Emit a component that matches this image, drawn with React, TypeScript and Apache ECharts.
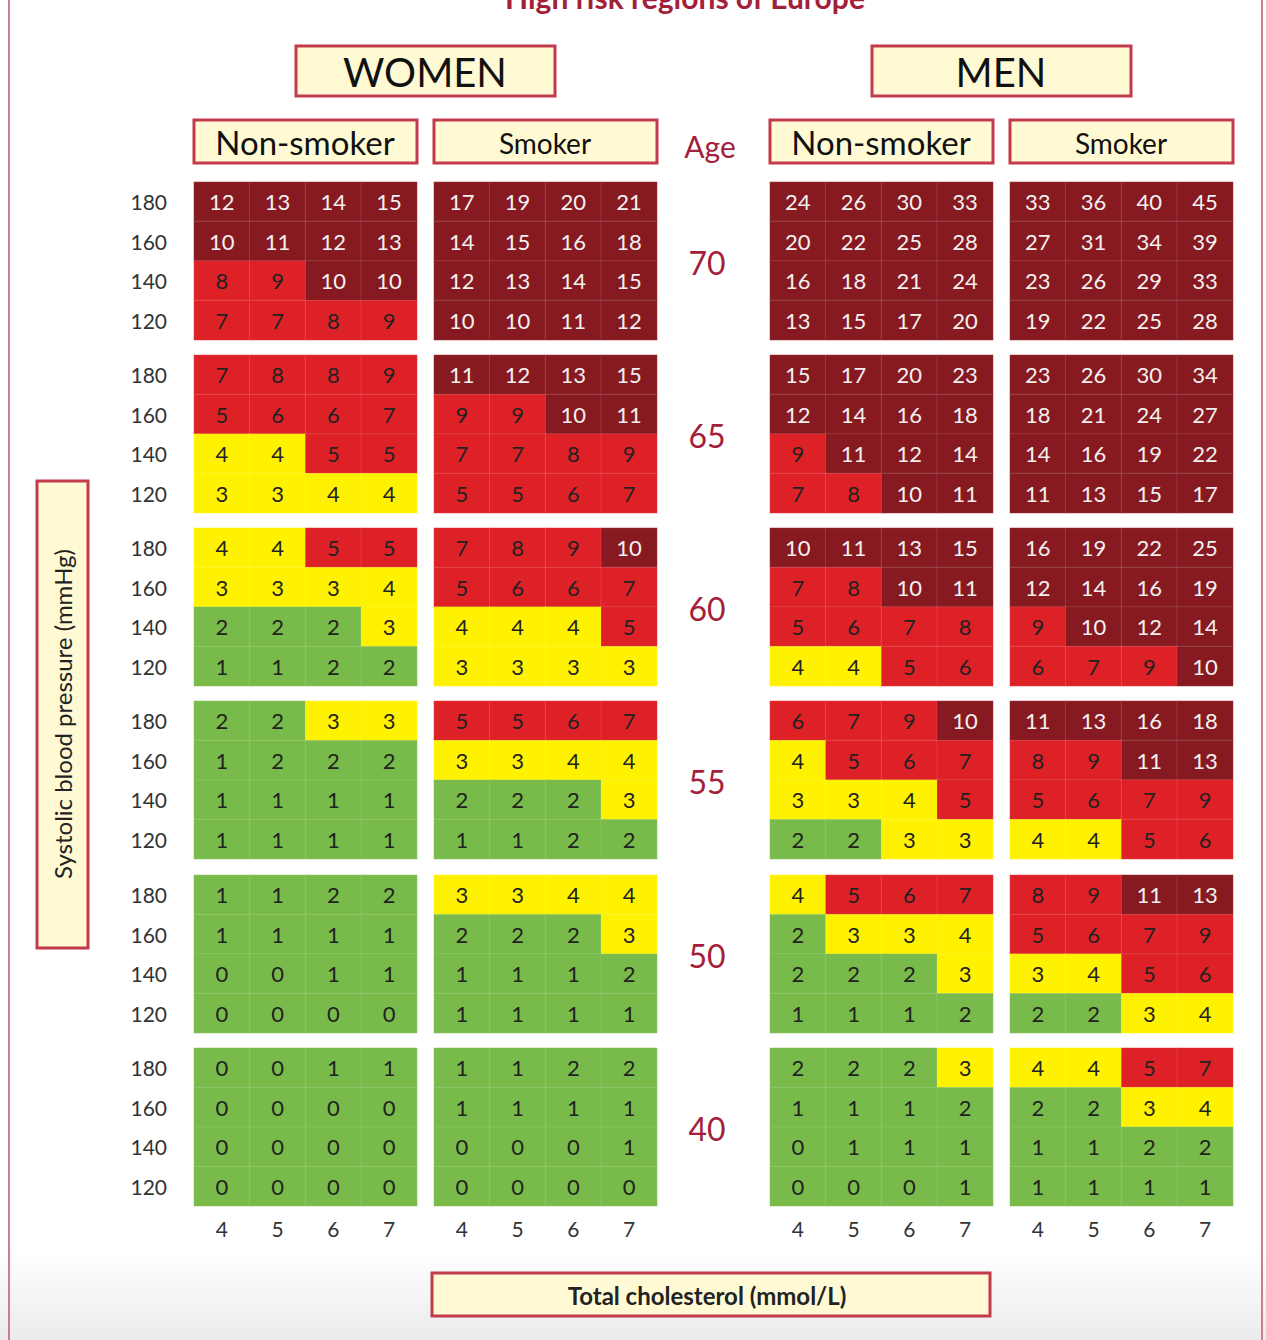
import React, { useEffect, useRef } from "react";
import * as echarts from "echarts";

const cholesterol = ["4", "5", "6", "7"];
const pressure = ["120", "140", "160", "180"];
const ages = ["70", "65", "60", "55", "50", "40"];
const panels = ["Non-smoker", "Smoker", "Non-smoker", "Smoker"];

// rows top to bottom: 180, 160, 140, 120; columns 4..7
const womenNonSmoker = [
  [[12, 13, 14, 15], [10, 11, 12, 13], [8, 9, 10, 10], [7, 7, 8, 9]],
  [[7, 8, 8, 9], [5, 6, 6, 7], [4, 4, 5, 5], [3, 3, 4, 4]],
  [[4, 4, 5, 5], [3, 3, 3, 4], [2, 2, 2, 3], [1, 1, 2, 2]],
  [[2, 2, 3, 3], [1, 2, 2, 2], [1, 1, 1, 1], [1, 1, 1, 1]],
  [[1, 1, 2, 2], [1, 1, 1, 1], [0, 0, 1, 1], [0, 0, 0, 0]],
  [[0, 0, 1, 1], [0, 0, 0, 0], [0, 0, 0, 0], [0, 0, 0, 0]],
];
const womenSmoker = [
  [[17, 19, 20, 21], [14, 15, 16, 18], [12, 13, 14, 15], [10, 10, 11, 12]],
  [[11, 12, 13, 15], [9, 9, 10, 11], [7, 7, 8, 9], [5, 5, 6, 7]],
  [[7, 8, 9, 10], [5, 6, 6, 7], [4, 4, 4, 5], [3, 3, 3, 3]],
  [[5, 5, 6, 7], [3, 3, 4, 4], [2, 2, 2, 3], [1, 1, 2, 2]],
  [[3, 3, 4, 4], [2, 2, 2, 3], [1, 1, 1, 2], [1, 1, 1, 1]],
  [[1, 1, 2, 2], [1, 1, 1, 1], [0, 0, 0, 1], [0, 0, 0, 0]],
];
const menNonSmoker = [
  [[24, 26, 30, 33], [20, 22, 25, 28], [16, 18, 21, 24], [13, 15, 17, 20]],
  [[15, 17, 20, 23], [12, 14, 16, 18], [9, 11, 12, 14], [7, 8, 10, 11]],
  [[10, 11, 13, 15], [7, 8, 10, 11], [5, 6, 7, 8], [4, 4, 5, 6]],
  [[6, 7, 9, 10], [4, 5, 6, 7], [3, 3, 4, 5], [2, 2, 3, 3]],
  [[4, 5, 6, 7], [2, 3, 3, 4], [2, 2, 2, 3], [1, 1, 1, 2]],
  [[2, 2, 2, 3], [1, 1, 1, 2], [0, 1, 1, 1], [0, 0, 0, 1]],
];
const menSmoker = [
  [[33, 36, 40, 45], [27, 31, 34, 39], [23, 26, 29, 33], [19, 22, 25, 28]],
  [[23, 26, 30, 34], [18, 21, 24, 27], [14, 16, 19, 22], [11, 13, 15, 17]],
  [[16, 19, 22, 25], [12, 14, 16, 19], [9, 10, 12, 14], [6, 7, 9, 10]],
  [[11, 13, 16, 18], [8, 9, 11, 13], [5, 6, 7, 9], [4, 4, 5, 6]],
  [[8, 9, 11, 13], [5, 6, 7, 9], [3, 4, 5, 6], [2, 2, 3, 4]],
  [[4, 4, 5, 7], [2, 2, 3, 4], [1, 1, 2, 2], [1, 1, 1, 1]],
];

const FONT = "Lato";
const DARK = "#861a20";
const RED = "#de2127";
const YELLOW = "#fff200";
const GREEN = "#78bb4a";

export default function App() {
  const ref = useRef<HTMLDivElement>(null);
  useEffect(() => {
    if (!ref.current) return;
    const chart = echarts.init(ref.current, undefined, { renderer: "svg" });
    const tables = [womenNonSmoker, womenSmoker, menNonSmoker, menSmoker];
    const colLeft = [194, 434, 770, 1010];
    const blockTop = [182, 355, 528, 701, 875, 1048];
    const W = 223;
    const H = 158;

    const grid: any[] = [];
    const xAxis: any[] = [];
    const yAxis: any[] = [];
    const series: any[] = [];

    tables.forEach((table, c) => {
      ages.forEach((age, a) => {
        const idx = grid.length;
        grid.push({ left: colLeft[c], top: blockTop[a], width: W, height: H });
        xAxis.push({
          type: "category",
          gridIndex: idx,
          data: cholesterol,
          axisLine: { show: false },
          axisTick: { show: false },
          splitLine: { show: false },
          axisLabel: {
            show: a === ages.length - 1,
            margin: 12,
            fontSize: 21,
            color: "#333",
            fontFamily: FONT,
          },
        });
        yAxis.push({
          type: "category",
          gridIndex: idx,
          data: pressure,
          axisLine: { show: false },
          axisTick: { show: false },
          splitLine: { show: false },
          axisLabel: {
            show: c === 0,
            margin: 27,
            fontSize: 21,
            color: "#333",
            fontFamily: FONT,
          },
        });
        const rows = table[a];
        const data: any[] = [];
        rows.forEach((row, r) => {
          const yi = pressure.length - 1 - r;
          row.forEach((v, xi) => {
            data.push({
              value: [xi, yi, v],
              label: { color: v >= 10 ? "#f4f0f0" : "#222222" },
            });
          });
        });
        series.push({
          type: "heatmap",
          xAxisIndex: idx,
          yAxisIndex: idx,
          data,
          itemStyle: { borderColor: "rgba(255,255,255,0.12)", borderWidth: 1 },
          label: {
            show: true,
            fontSize: 22,
            fontFamily: FONT,
            formatter: (p: any) => String(p.value[2]),
          },
          emphasis: { disabled: true },
        });
      });
    });

    const box = (x: number, y: number, w: number, h: number) => ({
      type: "rect",
      shape: { x, y, width: w, height: h },
      style: { fill: "#fffad4", stroke: "#c23a4c", lineWidth: 3 },
      z: 5,
    });
    const txt = (x: number, y: number, text: string, size: number, color = "#111", weight = "normal", extra: any = {}) => ({
      type: "text",
      x,
      y,
      z: 6,
      ...extra,
      style: {
        text,
        fill: color,
        font: `${weight} ${size}px ${FONT}`,
        textAlign: "center",
        textVerticalAlign: "middle",
      },
    });

    const graphic: any[] = [
      {
        type: "rect",
        shape: { x: 0, y: 1250, width: 1266, height: 90 },
        style: {
          fill: new echarts.graphic.LinearGradient(0, 0, 0, 1, [
            { offset: 0, color: "#ffffff" },
            { offset: 1, color: "#ebebeb" },
          ]),
        },
        z: 0,
      },
      { type: "line", shape: { x1: 9, y1: 0, x2: 9, y2: 1340 }, style: { stroke: "#c9808b", lineWidth: 2 }, z: 1 },
      { type: "line", shape: { x1: 1262, y1: 0, x2: 1262, y2: 1340 }, style: { stroke: "#c9808b", lineWidth: 2 }, z: 1 },
      {
        type: "text",
        x: 685,
        y: 12,
        z: 6,
        style: {
          text: "High risk regions of Europe",
          fill: "#a3203a",
          font: `bold 30px ${FONT}`,
          textAlign: "center",
          textVerticalAlign: "bottom",
        },
      },
      box(296, 46, 259, 50),
      txt(425, 72, "WOMEN", 40),
      box(872, 46, 259, 50),
      txt(1001, 72, "MEN", 40),
      box(194, 120, 223, 43),
      txt(305, 142, panels[0], 33),
      box(434, 120, 223, 43),
      txt(545, 143, panels[1], 28),
      box(770, 120, 223, 43),
      txt(881, 142, panels[2], 33),
      box(1010, 120, 223, 43),
      txt(1121, 143, panels[3], 28),
      txt(710, 146, "Age", 30, "#a3203a"),
      box(37, 481, 51, 467),
      txt(62, 714, "Systolic blood pressure (mmHg)", 24, "#222", "normal", { rotation: Math.PI / 2 }),
      box(432, 1273, 558, 43),
      txt(707, 1295, "Total cholesterol (mmol/L)", 24, "#222", "bold"),
    ];
    ages.forEach((age, a) => {
      graphic.push(txt(707, blockTop[a] + 80, age, 32, "#a3203a"));
    });

    chart.setOption({
      animation: false,
      backgroundColor: "#ffffff",
      grid,
      xAxis,
      yAxis,
      visualMap: {
        type: "piecewise",
        show: false,
        dimension: 2,
        seriesIndex: series.map((_, i) => i),
        pieces: [
          { gte: 10, color: DARK },
          { gte: 5, lt: 10, color: RED },
          { gte: 3, lt: 5, color: YELLOW },
          { lt: 3, color: GREEN },
        ],
      },
      series,
      graphic,
    });
    return () => chart.dispose();
  }, []);
  return (
    <div
      ref={ref}
      style={{ position: "absolute", left: 0, top: 0, width: 1266, height: 1340 }}
    />
  );
}
